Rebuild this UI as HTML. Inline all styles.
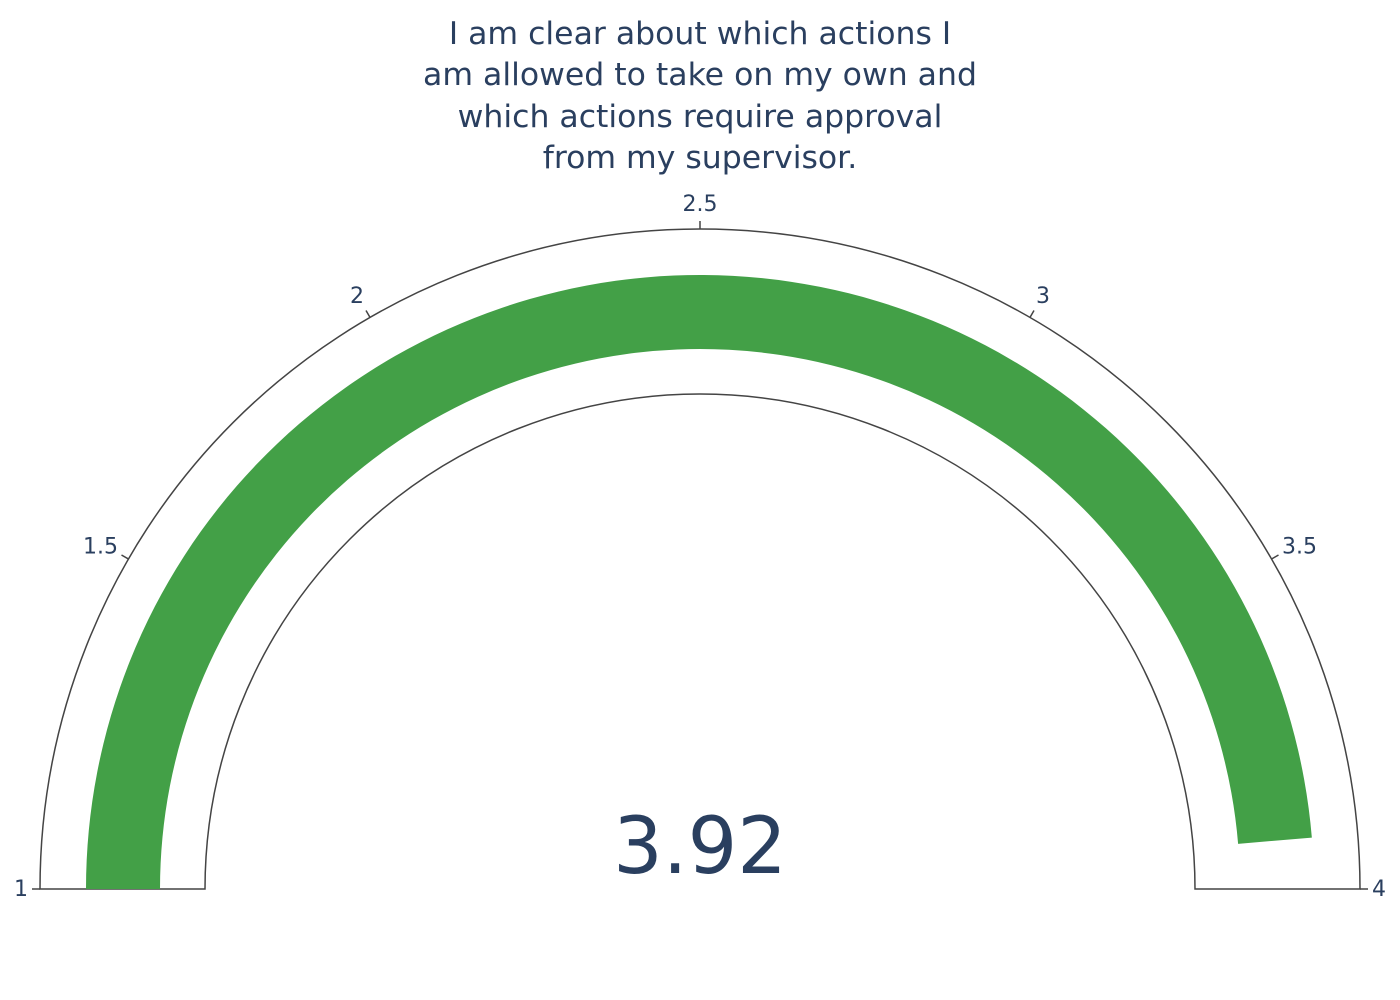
<!DOCTYPE html>
<html><head><meta charset="utf-8">
<style>
html,body{margin:0;padding:0;background:#fff;}
svg{display:block;font-family:"DejaVu Sans","Liberation Sans",sans-serif;}
</style></head>
<body>
<svg id="chart" width="1400" height="1000" viewBox="0 0 1400 1000">
  <rect width="1400" height="1000" fill="#fff"/>
  <g fill="#2a3f5f" font-size="31.5" text-anchor="middle">
    <text x="700" y="44">I am clear about which actions I</text>
    <text x="700" y="85">am allowed to take on my own and</text>
    <text x="700" y="127">which actions require approval</text>
    <text x="700" y="168">from my supervisor.</text>
  </g>
  <g id="gauge"></g>
  <text id="value" x="700" y="873" text-anchor="middle" font-size="78" fill="#2a3f5f"></text>
</svg>
<script>
const rangeMin = 1, rangeMax = 4;
const gaugeValue = [3.92];
const tickValues = [1, 1.5, 2, 2.5, 3, 3.5, 4];
const tickLabels = ["1", "1.5", "2", "2.5", "3", "3.5", "4"];

const cx = 700, cy = 889, rOut = 660, rIn = 495, bOut = 614, bIn = 540;
const NS = "http://www.w3.org/2000/svg";
const g = document.getElementById('gauge');
function ang(v){ return Math.PI * (1 - (v - rangeMin) / (rangeMax - rangeMin)); }
function pt(r, a){ return [cx + r * Math.cos(a), cy - r * Math.sin(a)]; }
function arcPath(r1, r2, v0, v1){
  const a0 = ang(v0), a1 = ang(v1);
  const p1 = pt(r2, a0), p2 = pt(r2, a1), p3 = pt(r1, a1), p4 = pt(r1, a0);
  const large = (a0 - a1) > Math.PI ? 1 : 0;
  return `M${p1[0]},${p1[1]} A${r2},${r2} 0 ${large} 1 ${p2[0]},${p2[1]} L${p3[0]},${p3[1]} A${r1},${r1} 0 ${large} 0 ${p4[0]},${p4[1]} Z`;
}
const bg = document.createElementNS(NS, 'path');
bg.setAttribute('d', arcPath(rIn, rOut, rangeMin, rangeMax));
bg.setAttribute('fill', '#fff');
bg.setAttribute('stroke', '#444');
bg.setAttribute('stroke-width', '1.5');


g.appendChild(bg);

const bar = document.createElementNS(NS, 'path');
bar.setAttribute('d', arcPath(bIn, bOut, rangeMin, gaugeValue[0]));
bar.setAttribute('fill', '#43a047');


g.appendChild(bar);

tickValues.forEach((v, i) => {
  const a = ang(v);
  const p1 = pt(rOut, a), p2 = pt(rOut + 8, a);
  const ln = document.createElementNS(NS, 'line');
  ln.setAttribute('x1', p1[0]); ln.setAttribute('y1', p1[1]);
  ln.setAttribute('x2', p2[0]); ln.setAttribute('y2', p2[1]);
  ln.setAttribute('stroke', '#444'); ln.setAttribute('stroke-width', '1.5');
  
  
  g.appendChild(ln);
  const lp = pt(rOut + 12, a);
  const t = document.createElementNS(NS, 'text');
  const c = Math.cos(a);
  let anchor = Math.abs(c) < 0.2 ? 'middle' : (c > 0 ? 'start' : 'end');
  t.setAttribute('x', lp[0]);
  t.setAttribute('y', lp[1] + 7 - 13 * Math.sin(a));
  t.setAttribute('text-anchor', anchor);
  t.setAttribute('font-size', '22');
  t.setAttribute('fill', '#2a3f5f');
  
  
  t.textContent = tickLabels[i];
  g.appendChild(t);
});
document.getElementById('value').textContent = gaugeValue[0].toFixed(2);
</script>
</body></html>
